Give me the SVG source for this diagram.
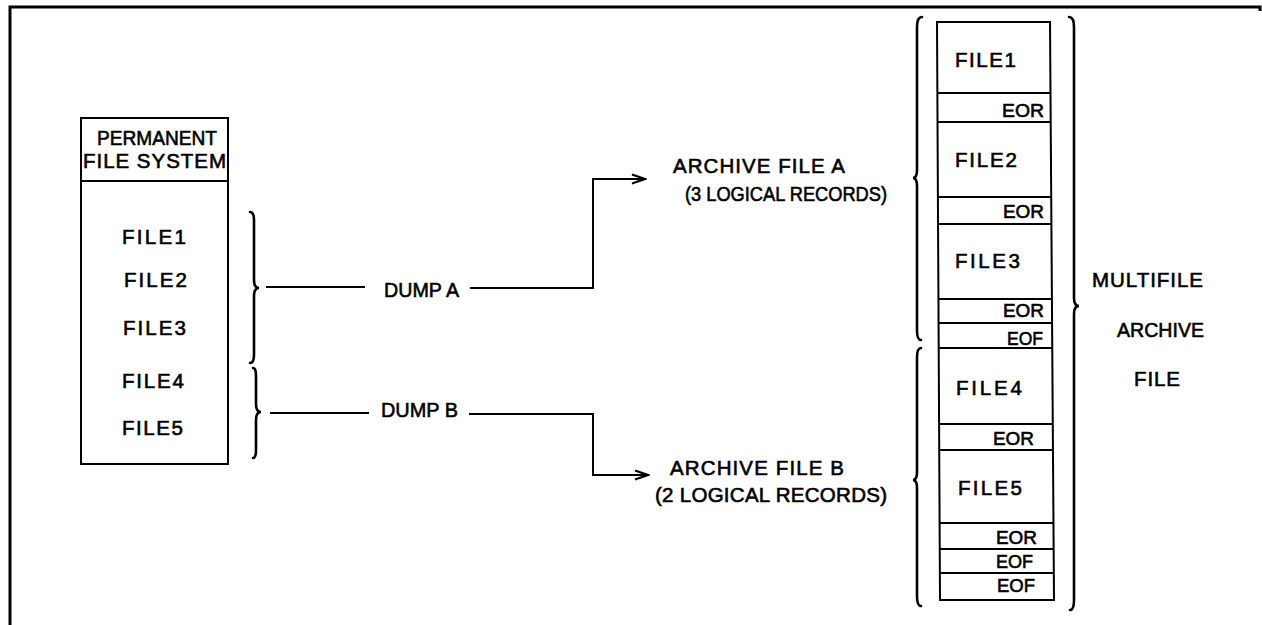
<svg xmlns="http://www.w3.org/2000/svg" width="1262" height="625" viewBox="0 0 1262 625">
<style>
.t{font-family:"Liberation Sans",Arial,sans-serif;font-size:20.5px;fill:#000;stroke:#000;stroke-width:0.6}
.s{font-size:19px}
.ln{stroke:#000;stroke-width:2;fill:none}
.br{stroke:#000;stroke-width:2.6;fill:none;stroke-linecap:round}
.fr{stroke:#000;stroke-width:3;fill:none}
</style>
<defs>
<marker id="arr" markerUnits="userSpaceOnUse" markerWidth="16" markerHeight="12" refX="14" refY="6" orient="auto">
<path d="M1,1.5 L14,6 L1,10.5" fill="none" stroke="#000" stroke-width="2.2"/>
</marker>
</defs>
<rect width="1262" height="625" fill="#fff"/>
<g id="frame">
<path class="fr" d="M10,625 L10,7 L1260,7 L1260,11"/>
</g>
<g id="pfs">
<rect class="ln" x="81" y="118" width="147" height="346"/>
<line class="ln" x1="81" y1="181" x2="228" y2="181"/>
<text class="t" x="97" y="145" textLength="120" lengthAdjust="spacingAndGlyphs">PERMANENT</text>
<text class="t" x="83" y="168" textLength="143" lengthAdjust="spacing">FILE SYSTEM</text>
<text class="t" x="122" y="244" textLength="64" lengthAdjust="spacing">FILE1</text>
<text class="t" x="124" y="287" textLength="63" lengthAdjust="spacing">FILE2</text>
<text class="t" x="123" y="335" textLength="63" lengthAdjust="spacing">FILE3</text>
<text class="t" x="122" y="388" textLength="62" lengthAdjust="spacing">FILE4</text>
<text class="t" x="122" y="435" textLength="61" lengthAdjust="spacing">FILE5</text>
</g>
<g id="brace-a">
<path class="br" d="M250,212 Q254,212 254,220 L254,280 Q254,288 259,288 Q254,288 254,296 L254,355 Q254,363 250,363"/>
</g>
<g id="brace-b">
<path class="br" d="M253,368 Q256,368 256,376 L256,404 Q256,412 261,412 Q256,412 256,420 L256,450 Q256,458 253,458"/>
</g>
<g id="dump-a">
<text class="t" x="384" y="297" textLength="75" lengthAdjust="spacingAndGlyphs">DUMP A</text>
</g>
<g id="dump-b">
<text class="t" x="381" y="417" textLength="77" lengthAdjust="spacingAndGlyphs">DUMP B</text>
</g>
<g id="archive-a">
<text class="t" x="673" y="173" textLength="172" lengthAdjust="spacing">ARCHIVE FILE A</text>
<text class="t" x="685" y="201" textLength="202" lengthAdjust="spacingAndGlyphs">(3 LOGICAL RECORDS)</text>
</g>
<g id="archive-b">
<text class="t" x="670" y="475" textLength="174" lengthAdjust="spacing">ARCHIVE FILE B</text>
<text class="t" x="655" y="502" textLength="232" lengthAdjust="spacing">(2 LOGICAL RECORDS)</text>
</g>
<g id="connectors">
<line class="ln" x1="266" y1="287" x2="365" y2="287"/>
<polyline class="ln" points="470,288 593,288 593,179 645,179" marker-end="url(#arr)"/>
<line class="ln" x1="270" y1="413" x2="369" y2="413"/>
<polyline class="ln" points="469,414 593,414 593,475 648,475" marker-end="url(#arr)"/>
</g>
<g id="stack">
<path class="ln" d="M937,22 L1050,22 L1054,600 L940,600 Z"/>
<line class="ln" x1="937.5" y1="93" x2="1050.5" y2="93"/>
<line class="ln" x1="937.7" y1="122" x2="1050.7" y2="122"/>
<line class="ln" x1="938.2" y1="197" x2="1051.2" y2="197"/>
<line class="ln" x1="938.4" y1="224" x2="1051.4" y2="224"/>
<line class="ln" x1="938.9" y1="299" x2="1051.9" y2="299"/>
<line class="ln" x1="939" y1="323" x2="1052" y2="323"/>
<line class="ln" x1="939.2" y1="348" x2="1052.2" y2="348"/>
<line class="ln" x1="939.7" y1="424" x2="1052.7" y2="424"/>
<line class="ln" x1="939.9" y1="450" x2="1052.9" y2="450"/>
<line class="ln" x1="940" y1="523" x2="1053.5" y2="523"/>
<line class="ln" x1="940" y1="549" x2="1053.7" y2="549"/>
<line class="ln" x1="940" y1="573" x2="1053.8" y2="573"/>
<text class="t" x="955" y="67" textLength="61" lengthAdjust="spacing">FILE1</text>
<text class="t s" x="1002" y="117" textLength="42" lengthAdjust="spacingAndGlyphs">EOR</text>
<text class="t" x="955" y="167" textLength="62" lengthAdjust="spacing">FILE2</text>
<text class="t s" x="1003" y="218" textLength="41" lengthAdjust="spacingAndGlyphs">EOR</text>
<text class="t" x="955" y="268" textLength="65" lengthAdjust="spacing">FILE3</text>
<text class="t s" x="1003" y="317" textLength="41" lengthAdjust="spacingAndGlyphs">EOR</text>
<text class="t s" x="1007" y="345" textLength="36" lengthAdjust="spacingAndGlyphs">EOF</text>
<text class="t" x="956" y="395" textLength="66" lengthAdjust="spacing">FILE4</text>
<text class="t s" x="993" y="445" textLength="41" lengthAdjust="spacingAndGlyphs">EOR</text>
<text class="t" x="958" y="495" textLength="64" lengthAdjust="spacing">FILE5</text>
<text class="t s" x="996" y="544" textLength="41" lengthAdjust="spacingAndGlyphs">EOR</text>
<text class="t s" x="996" y="568" textLength="37" lengthAdjust="spacingAndGlyphs">EOF</text>
<text class="t s" x="997" y="592" textLength="38" lengthAdjust="spacingAndGlyphs">EOF</text>
</g>
<g id="stack-braces">
<path class="br" d="M922,17 Q917,17 917,27 L917,170 Q917,178 913,178 Q917,178 917,186 L917,330 Q917,340 921,340"/>
<path class="br" d="M921,348 Q917,348 917,358 L917,472 Q917,480 913,480 Q917,480 917,488 L917,596 Q917,606 921,606"/>
<path class="br" d="M1069,17 Q1074,17 1074,27 L1074,298 Q1074,306 1079,306 Q1074,306 1074,314 L1074,600 Q1074,610 1070,610"/>
</g>
<g id="multifile">
<text class="t" x="1092" y="287" textLength="111" lengthAdjust="spacing">MULTIFILE</text>
<text class="t" x="1117" y="337" textLength="87" lengthAdjust="spacingAndGlyphs">ARCHIVE</text>
<text class="t" x="1134" y="386" textLength="46" lengthAdjust="spacing">FILE</text>
</g>
</svg>
